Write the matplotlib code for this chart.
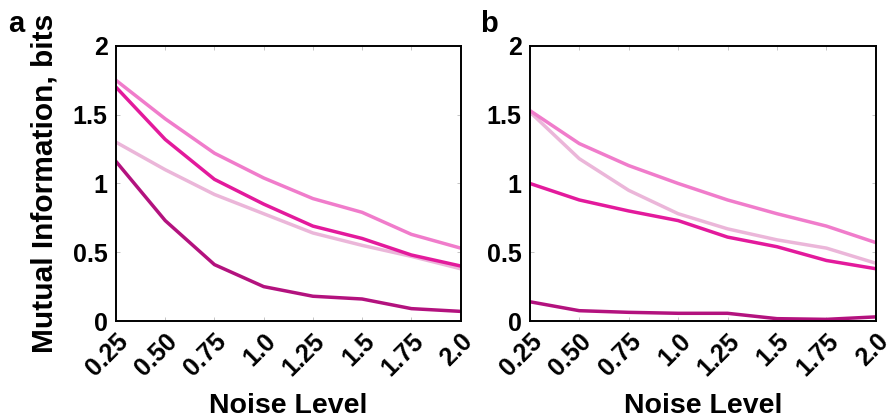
import numpy as np
import matplotlib.pyplot as plt

plt.rcParams['font.family'] = ['Liberation Sans', 'DejaVu Sans']
plt.rcParams['font.weight'] = 'bold'

noise_levels = [0.25, 0.50, 0.75, 1.0, 1.25, 1.5, 1.75, 2.0]
tick_labels = ['0.25', '0.50', '0.75', '1.0', '1.25', '1.5', '1.75', '2.0']

# panel a
a_top = [1.75, 1.47, 1.22, 1.04, 0.89, 0.79, 0.63, 0.53]
a_mid = [1.70, 1.32, 1.03, 0.85, 0.69, 0.60, 0.48, 0.40]
a_pale = [1.30, 1.10, 0.92, 0.78, 0.64, 0.55, 0.47, 0.38]
a_dark = [1.16, 0.73, 0.41, 0.25, 0.18, 0.16, 0.09, 0.07]

# panel b
b_top = [1.53, 1.29, 1.13, 1.00, 0.88, 0.78, 0.69, 0.57]
b_mid = [1.00, 0.88, 0.80, 0.73, 0.61, 0.54, 0.44, 0.38]
b_pale = [1.52, 1.18, 0.95, 0.78, 0.67, 0.59, 0.53, 0.42]
b_dark = [0.14, 0.075, 0.063, 0.056, 0.056, 0.017, 0.012, 0.03]

col_top = '#f07ccb'
col_mid = '#e31a9c'
col_pale = '#ebb6d9'
col_dark = '#b3127e'

fig = plt.figure(figsize=(8.95, 4.2), dpi=100)
ax_a = fig.add_axes([0.1296, 0.2357, 0.385, 0.655])
ax_b = fig.add_axes([0.592, 0.2357, 0.3866, 0.655])

panels = [(ax_a, a_top, a_mid, a_pale, a_dark), (ax_b, b_top, b_mid, b_pale, b_dark)]
for ax, top, mid, pale, dark in panels:
    ax.plot(noise_levels, pale, color=col_pale, lw=2.5)
    ax.plot(noise_levels, top, color=col_top, lw=2.5)
    ax.plot(noise_levels, mid, color=col_mid, lw=2.5)
    ax.plot(noise_levels, dark, color=col_dark, lw=2.5)
    ax.set_xlim(0.25, 2.0)
    ax.set_ylim(0, 2)
    ax.set_xticks(noise_levels)
    ax.set_xticklabels(tick_labels, rotation=45, ha='right', rotation_mode='anchor')
    ax.set_yticks([0, 0.5, 1, 1.5, 2])
    ax.set_yticklabels(['0', '0.5', '1', '1.5', '2'])
    ax.tick_params(direction='in', top=True, right=True, length=3, width=0.6,
                   color='#bbbbbb', labelsize=18, pad=6)
    for s in ax.spines.values():
        s.set_linewidth(1.4)
    ax.set_xlabel('Noise Level', fontsize=20.5, fontweight='bold', labelpad=9)

ax_a.set_ylabel('Mutual Information, bits', fontsize=21.5, fontweight='bold', labelpad=10)

fig.text(0.009, 0.925, 'a', fontsize=21, fontweight='bold')
fig.text(0.536, 0.925, 'b', fontsize=21, fontweight='bold')

fig.savefig('out.png', dpi=100)
